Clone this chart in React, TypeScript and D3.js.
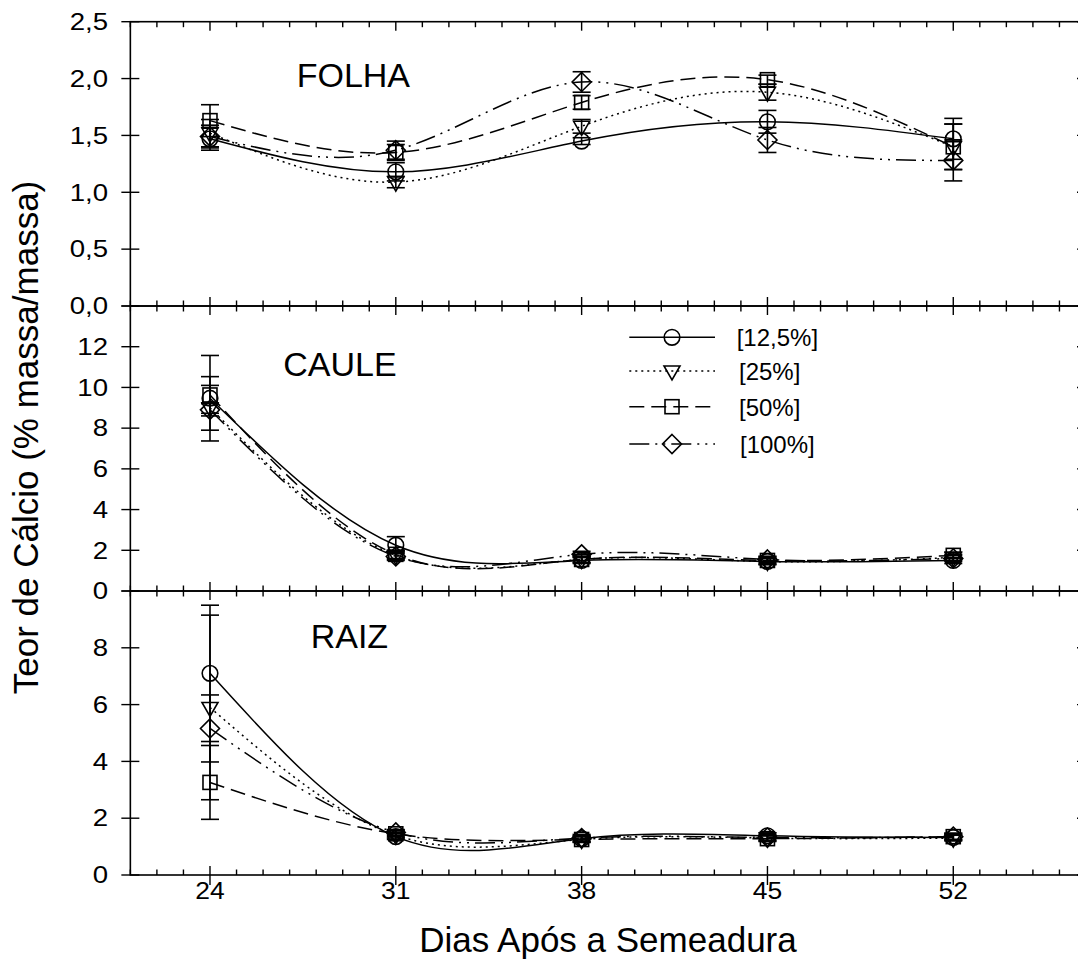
import React from "react";
import * as d3 from "d3";

// ---------- data ----------
const days = [24, 31, 38, 45, 52];
const seriesLabels = ["[12,5%]", "[25%]", "[50%]", "[100%]"];

// FOLHA (leaf)  order: 12,5% / 25% / 50% / 100%
const folhaMeans = [
  [1.47, 1.18, 1.45, 1.62, 1.47],
  [1.52, 1.09, 1.58, 1.88, 1.40],
  [1.63, 1.35, 1.79, 1.99, 1.40],
  [1.49, 1.37, 1.97, 1.46, 1.28],
];
const folhaErrors = [
  [0.10, 0.08, 0.03, 0.10, 0.18],
  [0.12, 0.05, 0.06, 0.07, 0.20],
  [0.14, 0.07, 0.06, 0.04, 0.20],
  [0.10, 0.08, 0.09, 0.11, 0.18],
];

// CAULE (stem)
const cauleMeans = [
  [9.47, 2.25, 1.50, 1.45, 1.50],
  [9.00, 1.75, 1.55, 1.45, 1.65],
  [9.63, 1.80, 1.55, 1.50, 1.75],
  [8.90, 1.70, 1.80, 1.55, 1.60],
];
const cauleErrors = [
  [2.10, 0.42, 0.15, 0.15, 0.15],
  [1.10, 0.20, 0.15, 0.15, 0.15],
  [0.90, 0.20, 0.15, 0.15, 0.15],
  [0.30, 0.20, 0.15, 0.15, 0.15],
];

// RAIZ (root)
const raizMeans = [
  [7.10, 1.35, 1.28, 1.38, 1.32],
  [5.90, 1.40, 1.25, 1.30, 1.30],
  [3.26, 1.45, 1.25, 1.28, 1.35],
  [5.16, 1.50, 1.30, 1.32, 1.35],
];
const raizErrors = [
  [2.40, 0.10, 0.10, 0.10, 0.10],
  [3.25, 0.10, 0.10, 0.10, 0.10],
  [1.30, 0.10, 0.10, 0.10, 0.10],
  [1.18, 0.10, 0.10, 0.10, 0.10],
];

const folhaTicks = [0, 0.5, 1.0, 1.5, 2.0, 2.5];
const folhaTickLabels = ["0,0", "0,5", "1,0", "1,5", "2,0", "2,5"];
const cauleTicks = [0, 2, 4, 6, 8, 10, 12, 14];
const cauleTickLabels = ["0", "2", "4", "6", "8", "10", "12", ""];
const raizTicks = [0, 2, 4, 6, 8, 10];
const raizTickLabels = ["0", "2", "4", "6", "8", ""];

const xMajorTicks = [24, 31, 38, 45, 52];

// ---------- layout ----------
const W = 1078;
const H = 972;
const FONT = "'Liberation Sans', Arial, Helvetica, sans-serif";
const x = d3.scaleLinear().domain([21, 57]).range([130.35, 1086]);
const xMinorTicks = d3.range(21, 58, 1);

const dashes = ["none", "2,4", "15,7", "20,6,2,6,2,6"];

const panels = [
  {
    name: "FOLHA",
    means: folhaMeans,
    errors: folhaErrors,
    y: d3.scaleLinear().domain([0, 2.5]).range([306, 21.7]),
    ticks: folhaTicks,
    labels: folhaTickLabels,
    labelX: 296.7,
    labelY: 86.7,
  },
  {
    name: "CAULE",
    means: cauleMeans,
    errors: cauleErrors,
    y: d3.scaleLinear().domain([0, 14]).range([591, 306]),
    ticks: cauleTicks,
    labels: cauleTickLabels,
    labelX: 283.3,
    labelY: 376,
  },
  {
    name: "RAIZ",
    means: raizMeans,
    errors: raizErrors,
    y: d3.scaleLinear().domain([0, 10]).range([875, 591]),
    ticks: raizTicks,
    labels: raizTickLabels,
    labelX: 310.7,
    labelY: 648.3,
  },
];

function Marker({ kind, cx, cy }: { kind: number; cx: number; cy: number }) {
  const common = { fill: "none", stroke: "#000", strokeWidth: 1.6 };
  if (kind === 0) return <circle cx={cx} cy={cy} r={7.8} {...common} />;
  if (kind === 1)
    return (
      <path
        d={`M${cx - 8},${cy - 5}L${cx + 8},${cy - 5}L${cx},${cy + 9}Z`}
        {...common}
      />
    );
  if (kind === 2)
    return <rect x={cx - 7} y={cy - 7} width={14} height={14} {...common} />;
  return (
    <path
      d={`M${cx},${cy - 9.5}L${cx + 9.5},${cy}L${cx},${cy + 9.5}L${cx - 9.5},${cy}Z`}
      {...common}
    />
  );
}

function Panel({ p }: { p: (typeof panels)[number] }) {
  const [y0, y1] = p.y.range();
  const x0 = x.range()[0];
  const x1 = x.range()[1];
  const line = d3
    .line<[number, number]>()
    .x((d) => x(d[0]))
    .y((d) => p.y(d[1]))
    .curve(d3.curveNatural);
  return (
    <g>
      <rect
        x={x0}
        y={y1}
        width={x1 - x0}
        height={y0 - y1}
        fill="none"
        stroke="#000"
        strokeWidth={1.6}
      />
      {xMinorTicks.map((t) => {
        const major = xMajorTicks.includes(t);
        const len = major ? 9 : 5.5;
        return (
          <g key={"xt" + t} stroke="#000" strokeWidth={1.4}>
            <line x1={x(t)} x2={x(t)} y1={y0} y2={y0 - len} />
            <line x1={x(t)} x2={x(t)} y1={y1} y2={y1 + len} />
          </g>
        );
      })}
      {p.ticks.map((t) => (
        <g key={"yt" + t} stroke="#000" strokeWidth={1.4}>
          <line x1={x0 - 9} x2={x0 + 9} y1={p.y(t)} y2={p.y(t)} />
          <line x1={x1 - 9} x2={x1 + 9} y1={p.y(t)} y2={p.y(t)} />
        </g>
      ))}
      {p.ticks.map((t, i) =>
        p.labels[i] ? (
          <text
            key={"yl" + t}
            transform={`translate(108,${p.y(t)}) scale(1.2,1)`}
            dy="0.36em"
            textAnchor="end"
            fontSize={23}
            fontFamily={FONT}
          >
            {p.labels[i]}
          </text>
        ) : null
      )}
      <text x={p.labelX} y={p.labelY} fontSize={34} fontFamily={FONT}>
        {p.name}
      </text>
      {p.means.map((m, s) => (
        <path
          key={"c" + s}
          d={line(days.map((d, i) => [d, m[i]] as [number, number])) || ""}
          fill="none"
          stroke="#000"
          strokeWidth={1.5}
          strokeDasharray={dashes[s]}
        />
      ))}
      {p.means.map((m, s) =>
        days.map((d, i) => {
          const e = p.errors[s][i];
          const cx = x(d);
          const ya = p.y(m[i] + e);
          const yb = p.y(Math.max(0, m[i] - e));
          return (
            <g key={"e" + s + "-" + i} stroke="#000" strokeWidth={1.6}>
              <line x1={cx} x2={cx} y1={ya} y2={yb} />
              <line x1={cx - 9} x2={cx + 9} y1={ya} y2={ya} />
              <line x1={cx - 9} x2={cx + 9} y1={yb} y2={yb} />
            </g>
          );
        })
      )}
      {p.means.map((m, s) =>
        days.map((d, i) => (
          <Marker key={"m" + s + "-" + i} kind={s} cx={x(d)} cy={p.y(m[i])} />
        ))
      )}
    </g>
  );
}

const legendRows = [337.3, 371, 406.7, 444];
const legendTextX = [736.7, 739, 739, 740];

export default function App() {
  return (
    <svg
      width={W}
      height={H}
      viewBox={`0 0 ${W} ${H}`}
      style={{ position: "absolute", left: 0, top: 0, background: "#fff" }}
    >
      <rect x={0} y={0} width={W} height={H} fill="#fff" />
      {panels.map((p) => (
        <Panel key={p.name} p={p} />
      ))}
      {xMajorTicks.map((t) => (
        <line
          key={"bx" + t}
          x1={x(t)}
          x2={x(t)}
          y1={875}
          y2={885}
          stroke="#000"
          strokeWidth={1.4}
        />
      ))}
      {xMajorTicks.map((t) => (
        <text
          key={"xl" + t}
          transform={`translate(${x(t)},899) scale(1.15,1)`}
          textAnchor="middle"
          fontSize={23}
          fontFamily={FONT}
        >
          {t}
        </text>
      ))}
      {seriesLabels.map((lab, s) => (
        <g key={"lg" + s}>
          <line
            x1={629.3}
            x2={715}
            y1={legendRows[s]}
            y2={legendRows[s]}
            stroke="#000"
            strokeWidth={1.5}
            strokeDasharray={dashes[s]}
          />
          <Marker kind={s} cx={672} cy={legendRows[s]} />
          <text
            x={legendTextX[s]}
            y={legendRows[s] + 9}
            fontSize={24}
            fontFamily={FONT}
          >
            {lab}
          </text>
        </g>
      ))}
      <text
        x={608}
        y={952}
        textAnchor="middle"
        fontSize={35}
        fontFamily={FONT}
      >
        Dias Após a Semeadura
      </text>
      <text
        transform="translate(38,437.5) rotate(-90)"
        textAnchor="middle"
        fontSize={35}
        fontFamily={FONT}
      >
        Teor de Cálcio (% massa/massa)
      </text>
    </svg>
  );
}
